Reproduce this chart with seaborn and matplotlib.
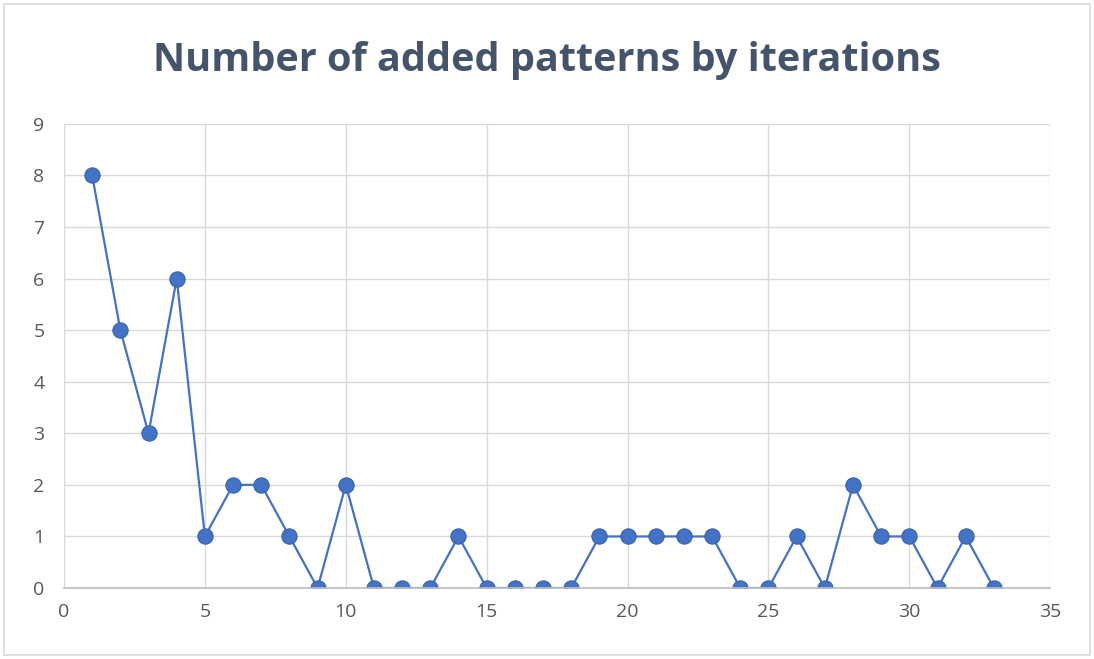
import matplotlib
matplotlib.use("Agg")
import matplotlib.pyplot as plt
import seaborn as sns
import pandas as pd
from matplotlib.patches import Rectangle

iterations = list(range(1, 34))
added_patterns = [8, 5, 3, 6, 1, 2, 2, 1, 0, 2, 0, 0, 0, 1, 0, 0, 0, 0,
                  1, 1, 1, 1, 1, 0, 0, 1, 0, 2, 1, 1, 0, 1, 0]
x_ticks = [0, 5, 10, 15, 20, 25, 30, 35]
y_ticks = list(range(0, 10))

df = pd.DataFrame({"iteration": iterations, "added": added_patterns})

sns.set_theme(style="white")
plt.rcParams["font.family"] = ["Open Sans", "DejaVu Sans"]

fig = plt.figure(figsize=(10.94, 6.59), dpi=100)
ax = fig.add_axes([0.0585, 0.1077, 0.9015, 0.7043])

sns.lineplot(data=df, x="iteration", y="added", ax=ax, color="#4472C4",
             linewidth=1.6, marker="o", markersize=11,
             markeredgecolor="#3A62AC", markeredgewidth=0.8,
             markerfacecolor="#4472C4")

ax.set_xlim(0, 35)
ax.set_ylim(0, 9)
ax.set_xticks(x_ticks)
ax.set_yticks(y_ticks)
ax.grid(True, color="#D9D9D9", linewidth=1)
ax.set_axisbelow(True)
for side in ["top", "right", "left"]:
    ax.spines[side].set_visible(False)
ax.spines["bottom"].set_color("#BFBFBF")
ax.tick_params(axis="both", length=0, labelsize=14, labelcolor="#595959")
ax.tick_params(axis="x", pad=11)
ax.tick_params(axis="y", pad=14)
ax.set_xlabel("")
ax.set_ylabel("")

fig.text(0.5, 0.908, "Number of added patterns by iterations", ha="center",
         va="center", fontsize=28.5, fontweight="bold", color="#44546A")

fig.patches.append(Rectangle((0.004, 0.006), 0.992, 0.988, transform=fig.transFigure,
                             fill=False, edgecolor="#D9D9D9", linewidth=1.2))

fig.savefig("out.png", dpi=100)
plt.close(fig)
